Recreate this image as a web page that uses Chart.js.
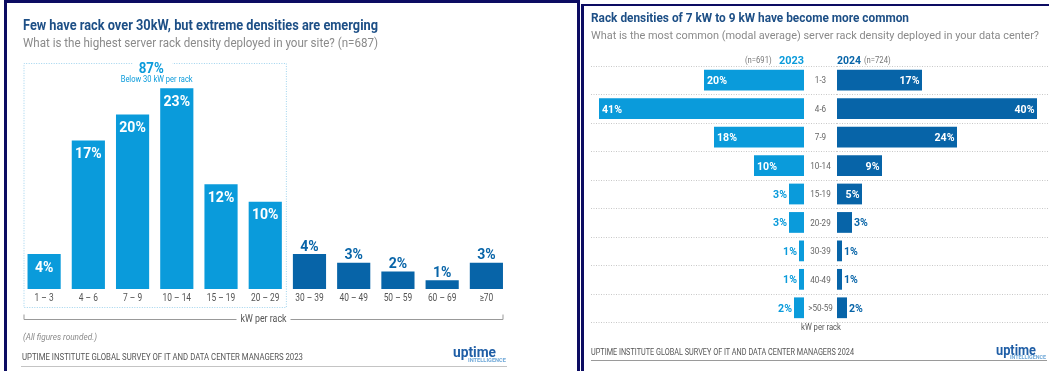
<!DOCTYPE html>
<html>
<head>
<meta charset="utf-8">
<script src="https://cdn.jsdelivr.net/npm/chart.js@4.4.1/dist/chart.umd.min.js"></script>
<style>
  html, body { margin: 0; padding: 0; background: #fff; }
  #page { position: relative; width: 1049px; height: 371px; overflow: hidden; background: #fff; font-family: Roboto, "Noto Sans", sans-serif; }
  .frame { position: absolute; border-style: solid; border-color: #0c0c62; box-sizing: border-box; }
  canvas { position: absolute; top: 0; }
  .t { position: absolute; white-space: nowrap; line-height: 1; transform-origin: 0 0; }
  .rule { position: absolute; height: 0; }
</style>
</head>
<body>
<div id="page">
  <div class="frame" style="left:4px;top:0;width:576px;height:400px;border-width:3px 3px 0 3px"></div>
  <div class="frame" style="left:581px;top:4px;width:480px;height:400px;border-width:2px 0 0 3px"></div>
  <div class="rule" style="left:21px;top:366px;width:486px;border-top:1px solid #c4c4c4"></div>
  <div class="rule" style="left:591px;top:360px;width:456px;border-top:1.5px solid #9a9a9a"></div>
  <canvas id="chartHighest" width="580" height="371" style="left:0"></canvas>
  <canvas id="chart2023" width="254" height="371" style="left:583px"></canvas>
  <canvas id="chart2024" width="212" height="371" style="left:837px"></canvas>
</div>
<script>
// Highest rack density deployed per site, 2023 survey (share of respondents, %)
const highestCategories = ['1 – 3', '4 – 6', '7 – 9', '10 – 14', '15 – 19', '20 – 29', '30 – 39', '40 – 49', '50 – 59', '60 – 69', '≥70'];
const highestShares = [4, 17, 20, 23, 12, 10, 4, 3, 2, 1, 3];
const belowThirtyRanges = 6;          // the first six ranges are under 30 kW
const belowThirtyLabel = ['87%', 'Below 30 kW per rack'];

// Most common rack density, 2023 vs 2024 (share of respondents, %)
const modalCategories = ['1-3', '4-6', '7-9', '10-14', '15-19', '20-29', '30-39', '40-49', '>50-59'];
const modal2023 = [20, 41, 18, 10, 3, 3, 1, 1, 2];
const modal2024 = [17, 40, 24, 9, 5, 3, 1, 1, 2];

const LIGHT = '#0a9bdb';
const DARK = '#0764a8';
const TITLE = '#1d4f86';
const page = document.getElementById('page');

// Text helper: places a line of text by its cap-height middle, optionally squeezed to a width
function T(text, o) {
  const el = document.createElement('div');
  el.className = 't';
  el.textContent = text;
  el.style.font = `${o.italic ? 'italic' : 'normal'} ${o.weight || 400} ${o.size}px ${o.family || 'Roboto'}`;
  el.style.color = o.color;
  page.appendChild(el);
  const nat = el.getBoundingClientRect().width;
  const k = o.w ? o.w / nat : (o.k || 1);
  const w = nat * k;
  const left = o.x !== undefined ? o.x : (o.cx !== undefined ? o.cx - w / 2 : o.rx - w);
  const top = o.xmid !== undefined ? o.xmid - 0.578 * o.size : o.mid - 0.487 * o.size;
  el.style.left = left + 'px';
  el.style.top = top + 'px';
  el.style.transform = `scaleX(${k})`;
}

// left panel texts
T('Few have rack over 30kW, but extreme densities are emerging', { x: 23, mid: 24, size: 14, weight: 700, color: TITLE, w: 355 });
T('What is the highest server rack density deployed in your site? (n=687)', { x: 23, mid: 41.5, size: 12, color: '#8a8a8a', w: 355 });
T('(All figures rounded.)', { x: 23, mid: 336, size: 9.5, italic: true, color: '#8a8a8a', w: 74 });
T('UPTIME INSTITUTE GLOBAL SURVEY OF IT AND DATA CENTER MANAGERS 2023', { x: 22, mid: 356, size: 8.5, color: '#555', w: 281 });
T('uptime', { x: 453, xmid: 351.8, size: 15, weight: 700, color: '#1f5ea6', w: 43 });
T('INTELLIGENCE', { x: 468, mid: 360, size: 4.5, weight: 700, color: '#6fa8d8', w: 38 });

// right panel texts
T('Rack densities of 7 kW to 9 kW have become more common', { x: 591, mid: 16.8, size: 13, weight: 700, color: TITLE, w: 318 });
T('What is the most common (modal average) server rack density deployed in your data center?', { x: 591, mid: 33.3, size: 11.5, color: '#8a8a8a', w: 448 });
T('2023', { rx: 804, mid: 59.3, size: 11, weight: 700, color: LIGHT, w: 25 });
T('(n=691)', { rx: 772, mid: 59.5, size: 8.5, color: '#777', k: 0.9 });
T('2024', { x: 837, mid: 59.3, size: 11, weight: 700, color: DARK, w: 24 });
T('(n=724)', { x: 864, mid: 59.5, size: 8.5, color: '#777', k: 0.9 });
T('kW per rack', { cx: 820.5, mid: 326, size: 8.5, color: '#555', w: 40 });
T('UPTIME INSTITUTE GLOBAL SURVEY OF IT AND DATA CENTER MANAGERS 2024', { x: 591, mid: 351, size: 8.5, color: '#555', w: 263 });
T('uptime', { x: 996, xmid: 349.7, size: 14, weight: 700, color: '#1f5ea6', w: 40 });
T('INTELLIGENCE', { x: 1010, mid: 356.7, size: 4.5, weight: 700, color: '#6fa8d8', w: 36 });

// canvas text, horizontally condensed by k (or fitted to a width)
function ctext(ctx, text, x, y, align, k, width) {
  if (width) k = width / ctx.measureText(text).width;
  ctx.save();
  ctx.translate(x, y);
  ctx.scale(k, 1);
  ctx.textAlign = align;
  ctx.textBaseline = 'alphabetic';
  ctx.fillText(text, 0, 0);
  ctx.restore();
}

const baseOptions = {
  responsive: false,
  animation: false,
  events: [],
  plugins: { legend: { display: false }, tooltip: { enabled: false } }
};

// ---- highest density column chart ----
const highestDecor = {
  id: 'highestDecor',
  afterDatasetsDraw(chart) {
    const { ctx, chartArea: a, scales: { x } } = chart;
    const pitch = x.getPixelForValue(1) - x.getPixelForValue(0);
    const meta = chart.getDatasetMeta(0);
    ctx.save();
    ctx.font = '700 14.5px Roboto';
    meta.data.forEach((bar, i) => {
      const t = highestShares[i] + '%';
      if (i < belowThirtyRanges) {
        ctx.fillStyle = '#fff';
        ctext(ctx, t, bar.x, bar.y + 17.5, 'center', 0.97);
      } else {
        ctx.fillStyle = DARK;
        ctext(ctx, t, bar.x, bar.y - 3.5, 'center', 0.97);
      }
    });
    ctx.font = '400 10px Roboto';
    ctx.fillStyle = '#555';
    highestCategories.forEach((c, i) => ctext(ctx, c, x.getPixelForValue(i), a.bottom + 12, 'center', 0.84));

    // dotted frame around the ranges below 30 kW
    const bl = x.getPixelForValue(0) - pitch / 2 + 2;
    const br = x.getPixelForValue(belowThirtyRanges - 1) + pitch / 2 - 1;
    const bt = Math.round(a.top + 1) + 0.5, bb = Math.round(a.bottom + 18) + 0.5;
    const cx = (bl + br) / 2;
    ctx.strokeStyle = '#9fd3ee';
    ctx.lineWidth = 1;
    ctx.setLineDash([1, 1.5]);
    ctx.beginPath();
    ctx.moveTo(cx - 23, bt); ctx.lineTo(bl, bt); ctx.lineTo(bl, bb); ctx.lineTo(br, bb); ctx.lineTo(br, bt); ctx.lineTo(cx + 17, bt);
    ctx.stroke();
    ctx.setLineDash([]);
    ctx.fillStyle = LIGHT;
    ctx.font = '700 14px Roboto';
    ctext(ctx, belowThirtyLabel[0], cx - 4, a.top + 10.5, 'center', 0.95);
    ctx.font = '400 9.5px Roboto';
    ctext(ctx, belowThirtyLabel[1], cx + 1.5, a.top + 20.4, 'center', 1, 72);

    // "kW per rack" bracket under the axis
    const ly = Math.round(a.bottom + 30) + 0.5;
    const lx0 = bl, lx1 = a.right - 5.5;
    const lc = (lx0 + lx1) / 2;
    ctx.strokeStyle = '#999';
    ctx.beginPath();
    ctx.moveTo(lx0, ly - 5); ctx.lineTo(lx0, ly); ctx.lineTo(lc - 27, ly);
    ctx.moveTo(lc + 27, ly); ctx.lineTo(lx1, ly); ctx.lineTo(lx1, ly - 5);
    ctx.stroke();
    ctx.fillStyle = '#555';
    ctx.font = '400 10px Roboto';
    ctext(ctx, 'kW per rack', lc, a.bottom + 33, 'center', 1, 46);
    ctx.restore();
  }
};

new Chart(document.getElementById('chartHighest'), {
  type: 'bar',
  data: {
    labels: highestCategories,
    datasets: [{
      data: highestShares,
      backgroundColor: c => (c.dataIndex < belowThirtyRanges ? LIGHT : DARK),
      borderWidth: 0,
      categoryPercentage: 1,
      barPercentage: 0.75
    }]
  },
  options: {
    ...baseOptions,
    layout: { padding: { left: 22, right: 71.5, top: 62, bottom: 82 } },
    scales: { x: { display: false }, y: { display: false, min: 0, max: 26 } }
  },
  plugins: [highestDecor]
});

// ---- modal density butterfly (two mirrored horizontal bar charts) ----
function rowRules(x0, x1) {
  return {
    id: 'rowRules',
    beforeDatasetsDraw(chart) {
      const { ctx, chartArea: a, scales: { y } } = chart;
      const n = modalCategories.length;
      ctx.save();
      ctx.strokeStyle = '#c8c8c8';
      ctx.lineWidth = 1;
      ctx.setLineDash([1, 1.5]);
      for (let i = 0; i <= n; i++) {
        let py;
        if (i === 0) py = a.top;
        else if (i === n) py = a.bottom;
        else py = (y.getPixelForValue(i - 1) + y.getPixelForValue(i)) / 2;
        py = Math.round(py) + 0.5;
        ctx.beginPath();
        ctx.moveTo(x0, py);
        ctx.lineTo(x1 === null ? chart.width : x1, py);
        ctx.stroke();
      }
      ctx.restore();
    }
  };
}

const labels2023 = {
  id: 'labels2023',
  afterDatasetsDraw(chart) {
    const { ctx, chartArea: a } = chart;
    const meta = chart.getDatasetMeta(0);
    ctx.save();
    ctx.font = '700 11.5px Roboto';
    meta.data.forEach((bar, i) => {
      const v = modal2023[i];
      if (v >= 10) { ctx.fillStyle = '#fff'; ctext(ctx, v + '%', bar.x + 3, bar.y + 4, 'left', 0.92); }
      else { ctx.fillStyle = LIGHT; ctext(ctx, v + '%', bar.x - 2, bar.y + 4, 'right', 0.92); }
    });
    ctx.font = '400 9px Roboto';
    ctx.fillStyle = '#666';
    meta.data.forEach((bar, i) => ctext(ctx, modalCategories[i], a.right + 16.5, bar.y + 3.2, 'center', 0.9));
    ctx.restore();
  }
};

const labels2024 = {
  id: 'labels2024',
  afterDatasetsDraw(chart) {
    const { ctx } = chart;
    const meta = chart.getDatasetMeta(0);
    ctx.save();
    ctx.font = '700 11.5px Roboto';
    meta.data.forEach((bar, i) => {
      const v = modal2024[i];
      if (v >= 5) { ctx.fillStyle = '#fff'; ctext(ctx, v + '%', bar.x - 2.5, bar.y + 4, 'right', 0.92); }
      else { ctx.fillStyle = DARK; ctext(ctx, v + '%', bar.x + 2, bar.y + 4, 'left', 0.92); }
    });
    ctx.restore();
  }
};

function modalChart(id, values, color, reverse, padding, plugins) {
  return new Chart(document.getElementById(id), {
    type: 'bar',
    data: {
      labels: modalCategories,
      datasets: [{ data: values, backgroundColor: color, borderWidth: 0, categoryPercentage: 1, barPercentage: 0.73 }]
    },
    options: {
      ...baseOptions,
      indexAxis: 'y',
      layout: { padding },
      scales: {
        x: { display: false, min: 0, max: 42, reverse },
        y: { display: false }
      }
    },
    plugins
  });
}

modalChart('chart2023', modal2023, LIGHT, true, { left: 11, right: 33, top: 66, bottom: 49 }, [rowRules(8, null), labels2023]);
modalChart('chart2024', modal2024, DARK, false, { left: 0, right: 2, top: 66, bottom: 49 }, [rowRules(0, null), labels2024]);
</script>
</body>
</html>
